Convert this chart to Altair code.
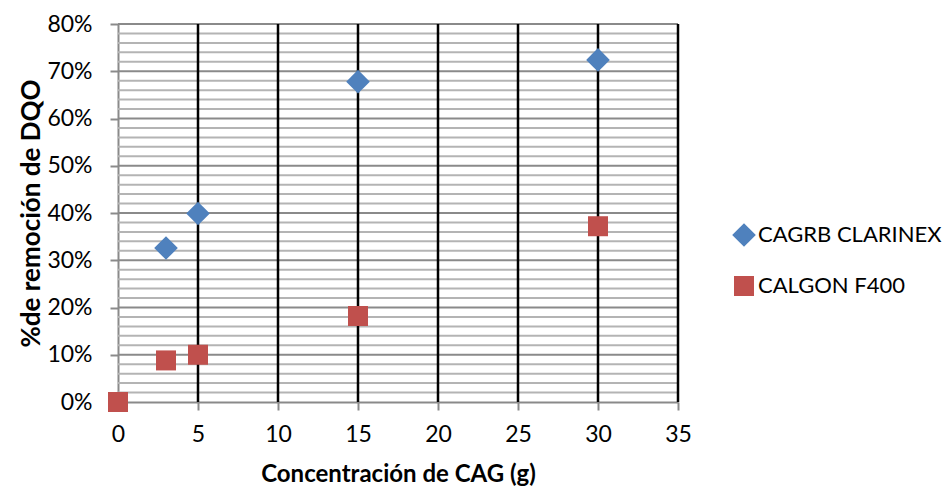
import altair as alt
import pandas as pd

# Series values (fraction of COD removed vs. activated-carbon dose)
conc_clarinex = [3, 5, 15, 30]
rem_clarinex = [0.326, 0.399, 0.678, 0.724]
conc_calgon = [0, 3, 5, 15, 30]
rem_calgon = [0.0, 0.088, 0.100, 0.182, 0.372]
series_names = ["CAGRB CLARINEX", "CALGON F400"]

# Axis ticks and grid positions
x_ticks = [0, 5, 10, 15, 20, 25, 30, 35]
x_grid = [5, 10, 15, 20, 25, 30, 35]
y_ticks = [0.0, 0.1, 0.2, 0.3, 0.4, 0.5, 0.6, 0.7, 0.8]
y_minor = [0.02, 0.04, 0.06, 0.08, 0.12, 0.14, 0.16, 0.18,
           0.22, 0.24, 0.26, 0.28, 0.32, 0.34, 0.36, 0.38,
           0.42, 0.44, 0.46, 0.48, 0.52, 0.54, 0.56, 0.58,
           0.62, 0.64, 0.66, 0.68, 0.72, 0.74, 0.76, 0.78]

points = pd.DataFrame({
    "conc": conc_clarinex + conc_calgon,
    "rem": rem_clarinex + rem_calgon,
    "serie": [series_names[0]] * len(conc_clarinex) + [series_names[1]] * len(conc_calgon),
})

FONT = "Lato"
x_scale = alt.Scale(domain=[0, 35], nice=False, zero=False)
y_scale = alt.Scale(domain=[0, 0.8], nice=False)

x_axis = alt.Axis(values=x_ticks, grid=False, domainColor="#8a8a8a", domainWidth=2,
                  tickColor="#8a8a8a", tickWidth=2, tickSize=8, labelFlush=False,
                  labelFontSize=23, labelPadding=13, labelColor="#000000",
                  titleFontSize=24, titleFontWeight="bold", titlePadding=16,
                  titleColor="#000000", labelFont=FONT, titleFont=FONT)
y_axis = alt.Axis(values=y_ticks, format=".0%", grid=False, domainColor="#8a8a8a",
                  domainWidth=2, tickColor="#8a8a8a", tickWidth=2, tickSize=8,
                  labelFontSize=23, labelPadding=18, labelColor="#000000",
                  titleFontSize=26, titleFontWeight="bold", titlePadding=2,
                  titleColor="#000000", labelFont=FONT, titleFont=FONT)
X_TITLE = "Concentración de CAG (g)"
Y_TITLE = "%de remoción de DQO"

minor = alt.Chart(pd.DataFrame({"rem": y_minor})).mark_rule(
    color="#b4b4b4", strokeWidth=2
).encode(y=alt.Y("rem:Q", scale=y_scale, axis=y_axis, title=Y_TITLE))

major = alt.Chart(pd.DataFrame({"rem": y_ticks[1:]})).mark_rule(
    color="#8a8a8a", strokeWidth=2
).encode(y=alt.Y("rem:Q", scale=y_scale, axis=y_axis, title=Y_TITLE))

vert = alt.Chart(pd.DataFrame({"conc": x_grid})).mark_rule(
    color="#000000", strokeWidth=2.5
).encode(x=alt.X("conc:Q", scale=x_scale, axis=x_axis, title=X_TITLE))

scatter = alt.Chart(points).mark_point(filled=True, opacity=1).encode(
    x=alt.X("conc:Q", scale=x_scale, axis=x_axis, title=X_TITLE),
    y=alt.Y("rem:Q", scale=y_scale, axis=y_axis, title=Y_TITLE),
    color=alt.Color(
        "serie:N",
        scale=alt.Scale(domain=series_names, range=["#4f81bd", "#c0504d"]),
        legend=alt.Legend(title=None, orient="none", legendX=614, legendY=199,
                          labelFontSize=22, labelFont=FONT, labelColor="#000000",
                          labelLimit=0, symbolSize=290, rowPadding=28, labelOffset=2,
                          padding=0, symbolStrokeWidth=0),
    ),
    shape=alt.Shape(
        "serie:N",
        scale=alt.Scale(domain=series_names, range=["diamond", "square"]),
    ),
    size=alt.Size(
        "serie:N",
        scale=alt.Scale(domain=series_names, range=[560, 400]),
        legend=None,
    ),
)

chart = alt.layer(minor, major, vert, scatter).properties(
    width=560, height=378,
    autosize=alt.AutoSizeParams(type="none"),
    padding={"left": 118, "top": 24, "right": 267, "bottom": 87},
).configure_view(stroke=None).configure(background="#ffffff")

chart.save("out.html", embed_options={"renderer": "svg", "actions": False})
